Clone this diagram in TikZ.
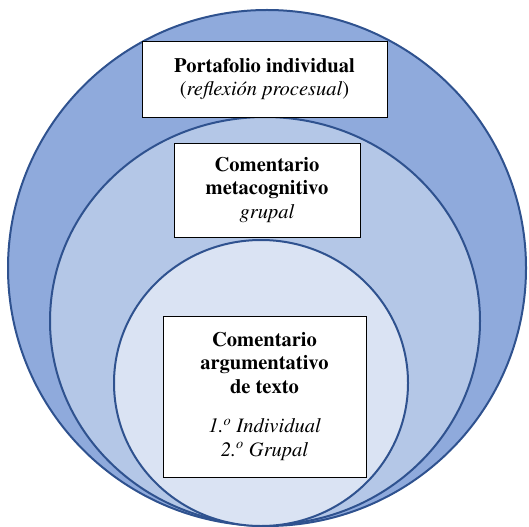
\documentclass[tikz,border=0pt]{standalone}
\usepackage[T1]{fontenc}
\usepackage{times}
\definecolor{ringline}{HTML}{2F528F}
\definecolor{ringa}{HTML}{8FAADC}
\definecolor{ringb}{HTML}{B4C7E7}
\definecolor{ringc}{HTML}{DAE3F3}
\tikzset{
    ring/.style={draw=ringline, line width=2bp},
    textbox/.style={draw=black, line width=0.9bp, fill=white, align=center,
        inner sep=0pt, font=\fontsize{20.5bp}{23.5bp}\selectfont}
}
\begin{document}
\begin{tikzpicture}[x=1bp, y=-1bp]
        \useasboundingbox (0,0) rectangle (529,527);

        \draw[ring, fill=ringa] (267,268) ellipse [x radius=259, y radius=258];
        \draw[ring, fill=ringb] (265,321) ellipse [x radius=215, y radius=204];
        \draw[ring, fill=ringc] (261,383) ellipse [x radius=147, y radius=143];

        \node[textbox, minimum width=245bp, minimum height=76bp] (portafolio) at (264.5,79)
            {\textbf{Portafolio individual}\\(\textit{reflexi\'on procesual})};
        \node[textbox, minimum width=186bp, minimum height=94bp] (metacognitivo) at (267,190)
            {\textbf{Comentario}\\\textbf{metacognitivo}\\\textit{grupal}};
        \node[textbox, minimum width=203bp, minimum height=161bp] (argumentativo) at (264.5,396.5)
            {\textbf{Comentario}\\\textbf{argumentativo}\\\textbf{de texto}\\[16bp]
             \textit{1.\textsuperscript{o} Individual}\\\textit{2.\textsuperscript{o} Grupal}};
\end{tikzpicture}
\end{document}
